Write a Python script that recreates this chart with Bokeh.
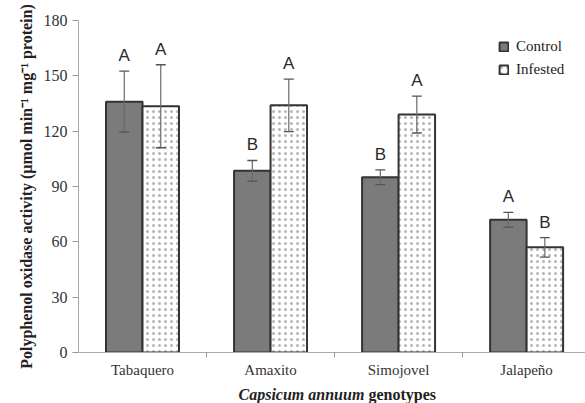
from bokeh.plotting import figure
from bokeh.layouts import column
from bokeh.models import (ColumnDataSource, Whisker, FixedTicker, Range1d,
                          Legend, LegendItem)
from bokeh.core.properties import value
from bokeh.embed import file_html
from bokeh.resources import INLINE

genotypes = ["Tabaquero", "Amaxito", "Simojovel", "Jalapeño"]
control = [136, 98.5, 95, 72]
control_err = [16.5, 5.6, 4, 4]
infested = [133.5, 134, 129, 57]
infested_err = [22.5, 14.2, 10, 5.3]
control_letters = ["A", "B", "B", "A"]
infested_letters = ["A", "A", "A", "B"]
y_ticks = [0, 30, 60, 90, 120, 150, 180]
x_title_parts = ["Capsicum annuum", "genotypes"]

SERIF = "Liberation Serif"
W = 585
bw = 0.285
centers = [i + 0.5 for i in range(len(genotypes))]
xc = [c - bw / 2 for c in centers]
xi = [c + bw / 2 for c in centers]

src_c = ColumnDataSource(dict(x=xc, y=control, lo=[v - e for v, e in zip(control, control_err)],
                              hi=[v + e for v, e in zip(control, control_err)], lab=control_letters))
src_i = ColumnDataSource(dict(x=xi, y=infested, lo=[v - e for v, e in zip(infested, infested_err)],
                              hi=[v + e for v, e in zip(infested, infested_err)], lab=infested_letters))

p = figure(width=W, height=380, output_backend="svg", toolbar_location=None,
           x_range=Range1d(0, 3.96), y_range=Range1d(0, 180),
           min_border_left=78, min_border_right=0, min_border_top=20, min_border_bottom=28)
p.outline_line_color = None
p.grid.grid_line_color = None
p.background_fill_color = "white"

rc = p.vbar(x="x", top="y", width=bw, source=src_c, fill_color="#7b7b7b",
            line_color="#333333", line_width=2)
ri = p.vbar(x="x", top="y", width=bw, source=src_i, fill_color="white",
            line_color="#333333", line_width=2, hatch_pattern="dot", hatch_color="#b5b5b5",
            hatch_scale=6, hatch_weight=0.8)

for s in (src_c, src_i):
    w = Whisker(base="x", lower="lo", upper="hi", source=s, line_color="#6a6a6a",
                line_width=1.2, level="annotation")
    for h in (w.upper_head, w.lower_head):
        h.line_color = "#555555"
        h.size = 10
        h.line_width = 1.3
    p.add_layout(w)
    p.text(x="x", y="hi", text="lab", source=s, text_align="center", text_baseline="bottom",
           y_offset=-6, text_font=value("Liberation Sans"), text_font_size="17px",
           text_color="#2a2a2a")

# axes
p.xaxis.ticker = FixedTicker(ticks=centers, minor_ticks=[1, 2, 3])
p.xaxis.major_label_overrides = {c: g for c, g in zip(centers, genotypes)}
p.xaxis.major_tick_out = 0
p.xaxis.major_tick_in = 0
p.xaxis.minor_tick_out = 5
p.xaxis.minor_tick_in = 0
p.xaxis.minor_tick_line_color = "#999999"
p.xaxis.axis_line_color = "#aaaaaa"
p.xaxis.major_label_text_font = SERIF
p.xaxis.major_label_text_font_size = "15px"
p.xaxis.major_label_text_color = "#333333"
p.xaxis.major_label_standoff = 4

p.yaxis.ticker = FixedTicker(ticks=y_ticks)
p.yaxis.minor_tick_line_color = None
p.yaxis.major_tick_out = 6
p.yaxis.major_tick_in = 0
p.yaxis.major_tick_line_color = "#999999"
p.yaxis.axis_line_color = "#aaaaaa"
p.yaxis.major_label_text_font = SERIF
p.yaxis.major_label_text_font_size = "16px"
p.yaxis.major_label_text_color = "#333333"
p.yaxis.major_label_standoff = 5
p.yaxis.axis_label = "Polyphenol oxidase activity (µmol min⁻¹ mg⁻¹ protein)"
p.yaxis.axis_label_text_font = SERIF
p.yaxis.axis_label_text_font_style = "bold"
p.yaxis.axis_label_text_font_size = "16px"
p.yaxis.axis_label_text_color = "#222222"
p.yaxis.axis_label_standoff = 6

legend = Legend(items=[LegendItem(label="Control", renderers=[rc]),
                       LegendItem(label="Infested", renderers=[ri])],
                location=(420, 274), glyph_width=11, glyph_height=11,
                label_text_font=SERIF, label_text_font_size="15px", label_text_color="#222222",
                border_line_color=None, background_fill_alpha=0, padding=0, margin=0,
                spacing=6, label_standoff=7, label_height=15)
p.add_layout(legend)

# x-axis title strip (mixed italic / bold styling); its frame aligns with the chart frame
t = figure(width=W, height=23, output_backend="svg", toolbar_location=None,
           x_range=Range1d(78, W), y_range=Range1d(0, 23),
           x_axis_location=None, y_axis_location=None,
           min_border_left=78, min_border_right=0, min_border_top=0, min_border_bottom=0)
t.outline_line_color = None
t.grid.grid_line_color = None
t.text(x=[238], y=[9], text=[x_title_parts[0]], text_font=value(SERIF),
       text_font_style="bold italic", text_font_size="16px", text_color="#222222",
       text_baseline="alphabetic", text_align="left")
t.text(x=[368], y=[9], text=[x_title_parts[1]], text_font=value(SERIF),
       text_font_style="bold", text_font_size="16px", text_color="#222222",
       text_baseline="alphabetic", text_align="left")

open("out.html", "w").write(file_html(column(p, t, spacing=0), INLINE))
